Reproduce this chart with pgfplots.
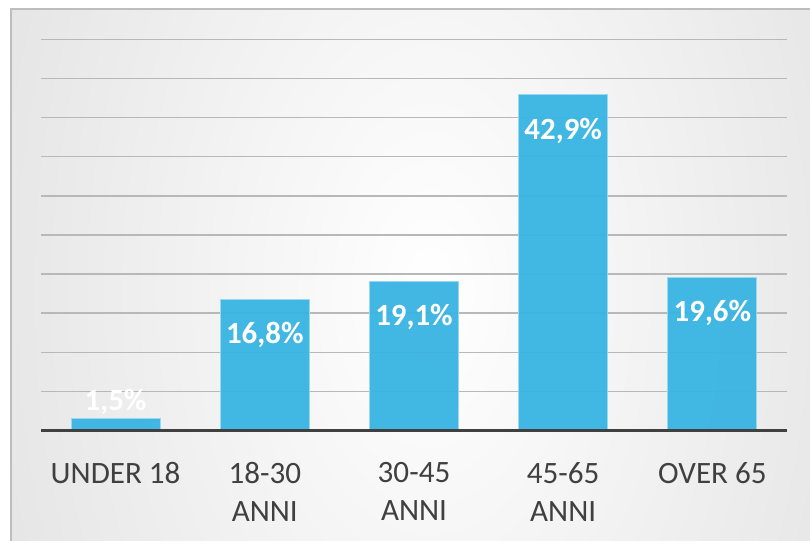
\documentclass[border=0pt]{standalone}
\usepackage{pgfplots}
\pgfplotsset{compat=1.18}
\usepackage{fontspec}
\setmainfont{Carlito}
\definecolor{barblue}{HTML}{38B4E3}
\definecolor{baredge}{HTML}{9AD8F0}
\definecolor{darkgray}{HTML}{404040}
\definecolor{gridgray}{HTML}{B8B8B8}
\definecolor{bgout}{HTML}{C4C4C4}
\definecolor{frameline}{HTML}{BDBDBD}
\pgfdeclareradialshading{bgshade}{\pgfpointorigin}{color(0bp)=(white); color(50bp)=(bgout)}
\begin{document}
\begin{tikzpicture}
\path[use as bounding box] (0,0) rectangle (405bp,270.5bp);
\begin{scope}
\clip (5.5bp,0) rectangle (405bp,266bp);
\fill[bgout] (5.5bp,0) rectangle (405bp,266bp);
\shade[shading=bgshade] (215bp,125.5bp) ellipse (260bp and 425bp);
\end{scope}
\draw[frameline, line width=0.75bp] (5.5bp,-1bp) -- (5.5bp,266bp) -- (406bp,266bp);
\begin{axis}[
  at={(20.5bp,55.25bp)}, anchor=south west,
  scale only axis, width=373bp, height=195.6bp,
  xmin=-0.5, xmax=4.5, ymin=0, ymax=50,
  clip=false,
  axis line style={draw=none},
  major tick length=0pt,
  ytick={5,10,...,50}, yticklabels={},
  ymajorgrids, grid style={gridgray, line width=0.75bp},
  xtick={0,1,2,3,4},
  xticklabels={{UNDER 18},{18-30\\ANNI},{30-45\\ANNI},{45-65\\ANNI},{OVER 65}},
  xticklabel style={font=\fontsize{15.6}{19.2}\selectfont, text=darkgray, align=center, anchor=north, inner sep=0pt, yshift=-15.6bp},
  /pgf/number format/.cd, use comma, fixed, fixed zerofill, precision=1, assume math mode=true,
]
\addplot[ybar, bar width=44.5bp, fill=barblue, fill opacity=0.95, draw=baredge, line width=0.5bp]
  coordinates {(0,1.5) (1,16.8) (2,19.1) (3,42.9) (4,19.6)};
\addplot[draw=none, mark=none,
  nodes near coords={\pgfmathprintnumber{\pgfplotspointmeta}\%},
  every node near coord/.style={font=\fontsize{15.5}{18}\selectfont\bfseries, text=white, anchor=north, inner sep=0pt, yshift=-11.5bp}]
  coordinates {(1,16.8) (2,19.1) (3,42.9) (4,19.6)};
\addplot[draw=none, mark=none,
  nodes near coords={\pgfmathprintnumber{\pgfplotspointmeta}\%},
  every node near coord/.style={font=\fontsize{15.5}{18}\selectfont\bfseries, text=white, anchor=base, inner sep=0pt, yshift=4.3bp}]
  coordinates {(0,1.5)};
\draw[darkgray, line width=1.75bp] (axis cs:-0.5,0) -- (axis cs:4.5,0);
\end{axis}
\end{tikzpicture}
\end{document}
